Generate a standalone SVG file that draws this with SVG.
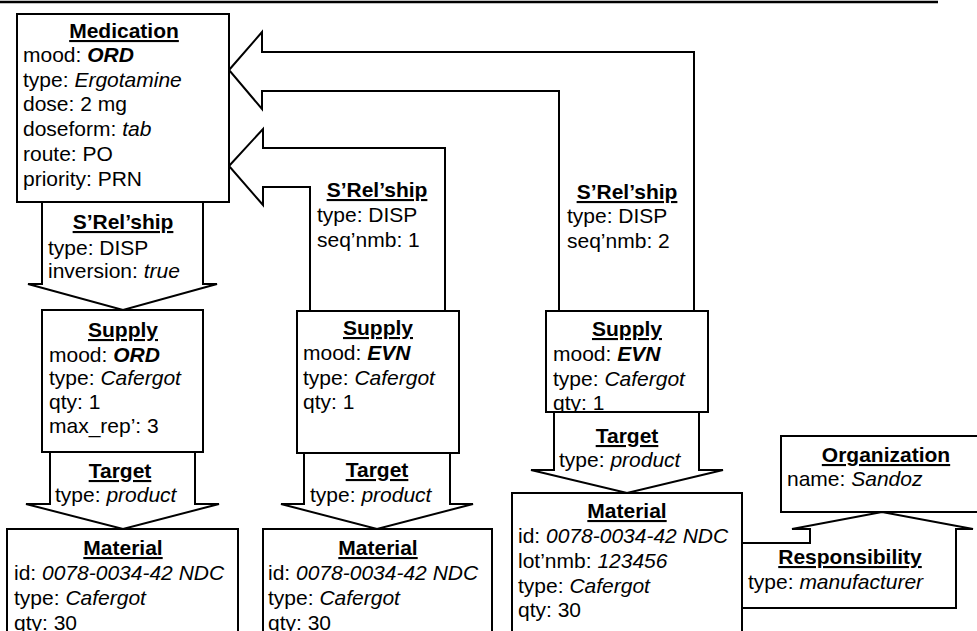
<svg xmlns="http://www.w3.org/2000/svg" width="977" height="631" viewBox="0 0 977 631">
<style>
.b{fill:#fff;stroke:#000;stroke-width:2;stroke-linejoin:miter}
text{font-family:"Liberation Sans",Arial,sans-serif;font-size:21px;fill:#000}
.t{font-weight:bold;text-decoration:underline;text-anchor:middle}
.i{font-style:italic}
.bi{font-weight:bold;font-style:italic}
</style>
<defs>
<clipPath id="cR"><rect x="546" y="311" width="162" height="100"/></clipPath>
</defs>
<rect width="977" height="631" fill="#fff"/>
<line x1="0" y1="2" x2="938" y2="2" stroke="#000" stroke-width="2.5"/>
<g id="connectors">
<g id="rel1">
<polygon class="b" points="229,70 262,32 262,52 694,52 694,311 559,311 559,91 262,91 262,109"/>
<text class="t" x="627" y="199">S’Rel’ship</text>
<text x="567" y="223">type: DISP</text>
<text x="567" y="248">seq’nmb: 2</text>
</g>
<g id="rel2">
<polygon class="b" points="229,166 263,129 263,148 445,148 445,311 310,311 310,187 263,187 263,205"/>
<text class="t" x="377" y="197">S’Rel’ship</text>
<text x="317" y="222">type: DISP</text>
<text x="317" y="247">seq’nmb: 1</text>
</g>
<g id="rel0">
<polygon class="b" points="42,202 203,202 203,284 217,284 123,310 28,284 42,284"/>
<text class="t" x="123" y="229">S’Rel’ship</text>
<text x="48" y="255">type: DISP</text>
<text x="48" y="278">inversion: <tspan class="i">true</tspan></text>
</g>
<g id="target1">
<polygon class="b" points="50,452 195,452 195,504 219,504 123,529 26,504 50,504"/>
<text class="t" x="120" y="478">Target</text>
<text x="55" y="502">type: <tspan class="i">product</tspan></text>
</g>
<g id="target2">
<polygon class="b" points="304,453 450,453 450,504 473,504 377,529 281,504 304,504"/>
<text class="t" x="377" y="477">Target</text>
<text x="310" y="502">type: <tspan class="i">product</tspan></text>
</g>
<g id="target3">
<polygon class="b" points="554,412 699,412 699,470 723,470 627,493 531,470 554,470"/>
<text class="t" x="627" y="443">Target</text>
<text x="559" y="467">type: <tspan class="i">product</tspan></text>
</g>
<g id="responsibility">
<polygon class="b" points="742,543 810,543 810,529 792,529 882,512 973,529 956,529 956,608 742,608"/>
<text class="t" x="850" y="564">Responsibility</text>
<text x="748" y="589">type: <tspan class="i">manufacturer</tspan></text>
</g>
</g>
<g id="medication">
<rect class="b" x="17" y="14" width="212" height="188"/>
<text class="t" x="124" y="38">Medication</text>
<text x="23" y="62">mood: <tspan class="bi">ORD</tspan></text>
<text x="23" y="87">type: <tspan class="i">Ergotamine</tspan></text>
<text x="23" y="111">dose: 2 mg</text>
<text x="23" y="136">doseform: <tspan class="i">tab</tspan></text>
<text x="23" y="161">route: PO</text>
<text x="23" y="186">priority: PRN</text>
</g>
<g id="supply1">
<rect class="b" x="42" y="310" width="161" height="142"/>
<text class="t" x="123" y="337">Supply</text>
<text x="49" y="362">mood: <tspan class="bi">ORD</tspan></text>
<text x="49" y="385">type: <tspan class="i">Cafergot</tspan></text>
<text x="49" y="409">qty: 1</text>
<text x="49" y="433">max_rep’: 3</text>
</g>
<g id="supply2">
<rect class="b" x="297" y="311" width="162" height="142"/>
<text class="t" x="378" y="335">Supply</text>
<text x="303" y="360">mood: <tspan class="bi">EVN</tspan></text>
<text x="303" y="385">type: <tspan class="i">Cafergot</tspan></text>
<text x="303" y="409">qty: 1</text>
</g>
<g id="supply3">
<rect class="b" x="546" y="311" width="162" height="101"/>
<g clip-path="url(#cR)">
<text class="t" x="627" y="336">Supply</text>
<text x="553" y="361">mood: <tspan class="bi">EVN</tspan></text>
<text x="553" y="386">type: <tspan class="i">Cafergot</tspan></text>
<text x="553" y="410">qty: 1</text>
</g>
<rect x="546" y="311" width="162" height="101" fill="none" stroke="#000" stroke-width="2"/>
</g>
<g id="material1">
<rect class="b" x="7" y="529" width="231" height="120"/>
<text class="t" x="123" y="555">Material</text>
<text x="14" y="580">id: <tspan class="i">0078-0034-42 NDC</tspan></text>
<text x="14" y="605">type: <tspan class="i">Cafergot</tspan></text>
<text x="14" y="630">qty: 30</text>
</g>
<g id="material2">
<rect class="b" x="263" y="529" width="229" height="120"/>
<text class="t" x="378" y="555">Material</text>
<text x="268" y="580">id: <tspan class="i">0078-0034-42 NDC</tspan></text>
<text x="268" y="605">type: <tspan class="i">Cafergot</tspan></text>
<text x="268" y="630">qty: 30</text>
</g>
<g id="material3">
<rect class="b" x="512" y="493" width="230" height="150"/>
<text class="t" x="627" y="518">Material</text>
<text x="518" y="543">id: <tspan class="i">0078-0034-42 NDC</tspan></text>
<text x="518" y="568">lot’nmb: <tspan class="i">123456</tspan></text>
<text x="518" y="593">type: <tspan class="i">Cafergot</tspan></text>
<text x="518" y="617">qty: 30</text>
</g>
<g id="organization">
<rect class="b" x="781" y="436" width="210" height="76"/>
<text class="t" x="886" y="462">Organization</text>
<text x="787" y="486">name: <tspan class="i">Sandoz</tspan></text>
</g>
</svg>
